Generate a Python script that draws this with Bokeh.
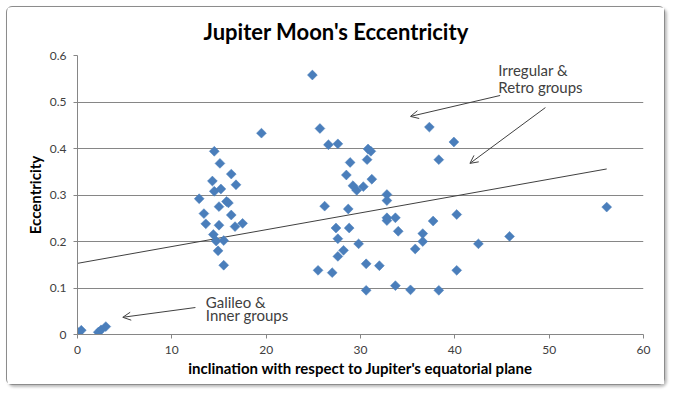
import math
from bokeh.plotting import figure
from bokeh.models import (ColumnDataSource, FixedTicker, NumeralTickFormatter, Label,
                          Arrow, OpenHead, Range1d)
from bokeh.embed import file_html
from bokeh.resources import INLINE

# ---- data ----
inclination = [
    0.1, 0.4, 2.2, 2.5, 3.0,
    14.5, 15.1, 16.3, 14.3, 16.8, 14.5, 15.2, 12.9, 15.8, 16.0, 15.0, 13.4, 16.3,
    13.6, 15.0, 16.7, 17.5, 14.4, 14.7, 15.5, 14.9, 15.5, 19.5,
    24.9, 25.7, 26.6, 27.6, 30.8, 31.1, 30.7, 28.9, 28.5, 29.2, 30.3, 29.6, 31.2,
    26.2, 28.7, 32.8, 32.8, 32.8, 32.8, 33.7, 34.0, 27.4, 28.8, 27.6, 29.8, 28.2,
    27.6, 25.5, 27.0, 30.6, 32.0, 30.6, 33.7, 35.3, 38.3, 36.6, 36.6, 35.8, 37.7,
    37.3, 39.9, 38.3, 40.2, 40.2, 42.5, 45.8, 56.1,
]
eccentricity = [
    0.004, 0.009, 0.005, 0.010, 0.017,
    0.394, 0.368, 0.345, 0.330, 0.322, 0.308, 0.313, 0.292, 0.286, 0.283, 0.275, 0.260, 0.257,
    0.238, 0.235, 0.232, 0.239, 0.215, 0.201, 0.202, 0.180, 0.149, 0.433,
    0.558, 0.443, 0.408, 0.410, 0.399, 0.394, 0.376, 0.370, 0.343, 0.320, 0.318, 0.310, 0.334,
    0.276, 0.270, 0.301, 0.288, 0.251, 0.245, 0.251, 0.222, 0.229, 0.229, 0.206, 0.195, 0.181,
    0.168, 0.138, 0.133, 0.152, 0.148, 0.095, 0.105, 0.096, 0.095, 0.217, 0.200, 0.184, 0.244,
    0.446, 0.414, 0.376, 0.258, 0.138, 0.195, 0.211, 0.274,
]
trend_x = [0, 56.1]
trend_y = [0.153, 0.356]

x_ticks = [0, 10, 20, 30, 40, 50, 60]
y_ticks = [0, 0.1, 0.2, 0.3, 0.4, 0.5, 0.6]

title_text = "Jupiter Moon's Eccentricity"
x_label = "inclination with respect to Jupiter's equatorial plane"
y_label = "Eccentricity"

FONT = "Lato"
GRAY = "#868686"
TXT = "#404040"

p = figure(width=659, height=379, output_backend="svg", toolbar_location=None,
           x_range=Range1d(0, 60), y_range=Range1d(0, 0.6),
           min_border_left=70, min_border_right=23, min_border_top=48, min_border_bottom=52)
p.styles = {"border": "1px solid #8c8c8c", "border-radius": "6px", "box-sizing": "border-box",
            "box-shadow": "2px 2px 3px #bbbbbb", "margin": "6px 0 0 6px"}

p.title.text = title_text
p.title.align = "left"
p.title.offset = 126
p.title.vertical_align = "top"
p.title.text_font = FONT
p.title.text_font_size = "22px"
p.title.text_font_style = "bold"
p.title.text_color = "#000000"
p.title.standoff = 18

p.outline_line_color = None
p.background_fill_color = "white"
p.border_fill_color = "white"

p.xgrid.grid_line_color = None
p.ygrid.grid_line_color = GRAY
p.ygrid.grid_line_width = 1
p.ygrid.ticker = FixedTicker(ticks=y_ticks)

p.xaxis.ticker = FixedTicker(ticks=x_ticks)
p.yaxis.ticker = FixedTicker(ticks=y_ticks)
p.yaxis.formatter = NumeralTickFormatter(format="0.[0]")

for ax in (p.xaxis, p.yaxis):
    ax.axis_line_color = GRAY
    ax.major_tick_line_color = GRAY
    ax.major_tick_out = 4
    ax.major_tick_in = 0
    ax.minor_tick_line_color = None
    ax.major_label_text_font = FONT
    ax.major_label_text_font_size = "12px"
    ax.major_label_text_color = TXT
    ax.axis_label_text_font = FONT
    ax.axis_label_text_font_style = "bold"
    ax.axis_label_text_font_size = "15px"
    ax.axis_label_text_color = "#000000"

p.xaxis.axis_label = x_label
p.yaxis.axis_label = y_label
p.xaxis.major_label_standoff = 7
p.xaxis.axis_label_standoff = 2
p.yaxis.major_label_standoff = 7
p.yaxis.axis_label_standoff = 3

# trend line
p.line(trend_x, trend_y, line_color="#404040", line_width=1)

# points
src = ColumnDataSource(dict(x=inclination, y=eccentricity))
p.scatter("x", "y", source=src, marker="square", angle=math.pi / 4, size=7,
          fill_color="#4a7ebb", line_color="#4a7ebb", line_width=0.5)

# annotations
def lab(x, y, t):
    p.add_layout(Label(x=x, y=y, text=t, text_font=FONT, text_font_size="15px",
                       text_color=TXT, text_baseline="middle"))

lab(44.6, 0.568, "Irregular &")
lab(44.6, 0.533, "Retro groups")
lab(13.6, 0.069, "Galileo &")
lab(13.6, 0.041, "Inner groups")

arrows = [((44.8, 0.514), (35.3, 0.469)),
          ((49.6, 0.488), (41.6, 0.368)),
          ((12.5, 0.058), (4.8, 0.037))]
for (x0, y0), (x1, y1) in arrows:
    p.add_layout(Arrow(x_start=x0, y_start=y0, x_end=x1, y_end=y1,
                       line_color="#404040", line_width=1,
                       end=OpenHead(size=8, line_color="#404040", line_width=1)))

open("out.html", "w").write(file_html(p, INLINE))
